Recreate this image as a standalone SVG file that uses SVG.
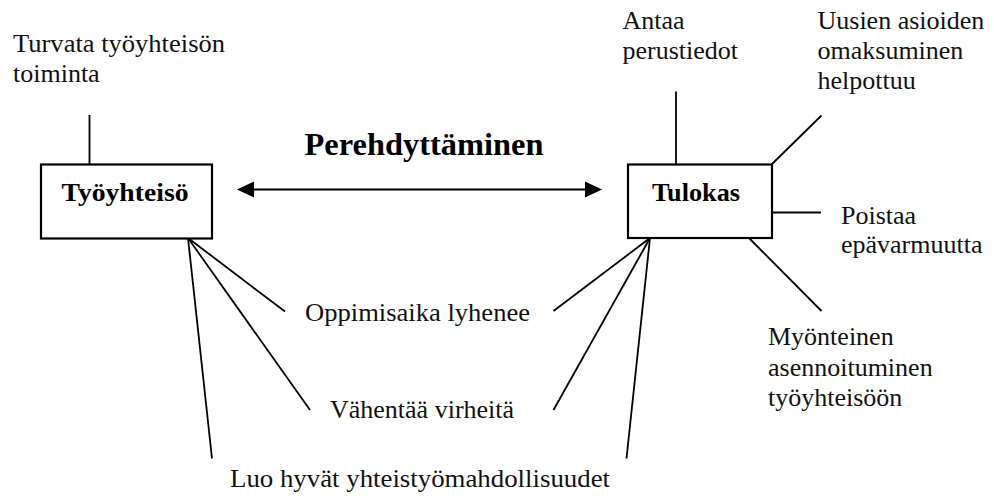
<svg xmlns="http://www.w3.org/2000/svg" width="994" height="499" viewBox="0 0 994 499">
  <style>
    .box { fill: #fff; stroke: #000; stroke-width: 2.2; }
    .ln { stroke: #000; stroke-width: 1.8; fill: none; }
    .lbl { font-size: 26px; fill: #111; }
    .hd { font-weight: bold; font-size: 26px; fill: #000; text-anchor: middle; }
  </style>
  <rect width="994" height="499" fill="#fff"/>

  <g id="connectors">
    <!-- two-way arrow between the boxes -->
    <line class="ln" x1="252" y1="189.5" x2="586" y2="189.5" style="stroke-width:2.2"/>
    <path d="M237,189.5 L254,181.5 L254,197.5 Z" fill="#000"/>
    <path d="M602,189.5 L585,181.5 L585,197.5 Z" fill="#000"/>
    <!-- Työyhteisö spokes -->
    <line class="ln" x1="89.5" y1="115" x2="89.5" y2="164"/>
    <line class="ln" x1="188" y1="238" x2="285" y2="311.5"/>
    <line class="ln" x1="188" y1="238" x2="310" y2="410"/>
    <line class="ln" x1="188" y1="238" x2="212" y2="458.5"/>
    <!-- Tulokas spokes -->
    <line class="ln" x1="676" y1="91.5" x2="676" y2="164"/>
    <line class="ln" x1="772" y1="164" x2="821.5" y2="115.5"/>
    <line class="ln" x1="772" y1="212.5" x2="821" y2="212.5"/>
    <line class="ln" x1="749" y1="238" x2="821.5" y2="311"/>
    <line class="ln" x1="650" y1="238" x2="553.5" y2="311"/>
    <line class="ln" x1="650" y1="238" x2="553.5" y2="410"/>
    <line class="ln" x1="650" y1="238" x2="626.5" y2="458.5"/>
  </g>

  <g font-family="Liberation Serif, Times New Roman, serif">
    <g id="tyoyhteiso">
      <rect class="box" x="41" y="164.5" width="171" height="74"/>
      <text class="hd" x="125" y="201" textLength="127" lengthAdjust="spacingAndGlyphs">Työyhteisö</text>
    </g>

    <g id="tulokas">
      <rect class="box" x="628" y="164.5" width="144" height="73.5"/>
      <text class="hd" x="696" y="201" textLength="88" lengthAdjust="spacingAndGlyphs">Tulokas</text>
    </g>

    <g id="perehdyttaminen">
      <text class="hd" x="424" y="155" font-size="31" style="font-size:31px" textLength="239" lengthAdjust="spacingAndGlyphs">Perehdyttäminen</text>
    </g>

    <g id="turvata">
      <text class="lbl" x="13" y="52" textLength="212" lengthAdjust="spacingAndGlyphs">Turvata työyhteisön</text>
      <text class="lbl" x="13" y="82">toiminta</text>
    </g>

    <g id="antaa">
      <text class="lbl" x="622.5" y="28.5">Antaa</text>
      <text class="lbl" x="622.5" y="58.5">perustiedot</text>
    </g>

    <g id="uusien">
      <text class="lbl" x="817.5" y="28.5">Uusien asioiden</text>
      <text class="lbl" x="817.5" y="58.5">omaksuminen</text>
      <text class="lbl" x="817.5" y="88.5">helpottuu</text>
    </g>

    <g id="poistaa">
      <text class="lbl" x="841" y="223.5">Poistaa</text>
      <text class="lbl" x="841" y="252.5">epävarmuutta</text>
    </g>

    <g id="myonteinen">
      <text class="lbl" x="768" y="345">Myönteinen</text>
      <text class="lbl" x="768" y="375.5">asennoituminen</text>
      <text class="lbl" x="768" y="405.5">työyhteisöön</text>
    </g>

    <g id="oppimisaika">
      <text class="lbl" x="305" y="320.5" textLength="225" lengthAdjust="spacingAndGlyphs">Oppimisaika lyhenee</text>
    </g>

    <g id="vahentaa">
      <text class="lbl" x="330" y="418">Vähentää virheitä</text>
    </g>

    <g id="luo">
      <text class="lbl" x="230" y="486.5" textLength="380" lengthAdjust="spacingAndGlyphs">Luo hyvät yhteistyömahdollisuudet</text>
    </g>
  </g>
</svg>
